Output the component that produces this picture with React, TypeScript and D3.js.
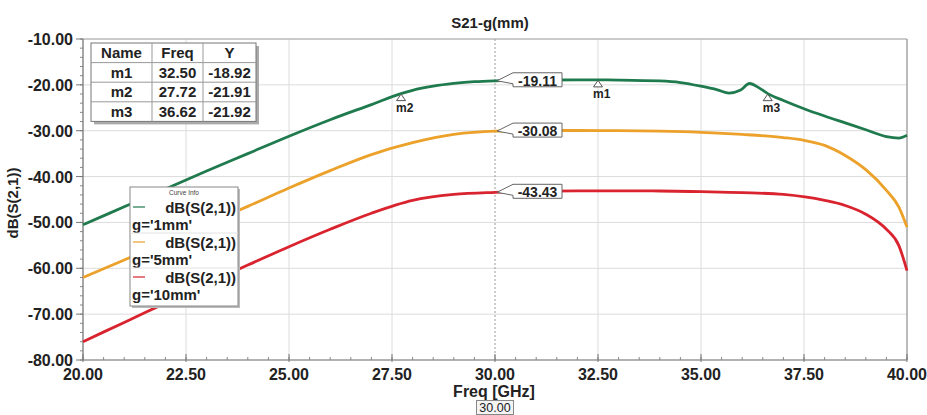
import React from "react";
import * as d3 from "d3";

const W = 927;
const H = 415;
const M = { left: 83, right: 907, top: 39, bottom: 360 };

const xTicks = [20, 22.5, 25, 27.5, 30, 32.5, 35, 37.5, 40];
const yTicks = [-10, -20, -30, -40, -50, -60, -70, -80];

const greenFreq = [20, 21, 22, 23, 24, 25, 26, 27, 27.72, 28, 28.5, 29, 29.5, 30, 31, 32, 32.5, 33, 34, 34.5, 35, 35.4, 35.68, 35.95, 36.18, 36.4, 36.62, 37, 37.5, 38, 38.5, 39, 39.5, 39.8, 40];
const greenVals = [-50.5, -46.6, -42.7, -38.8, -35, -31.2, -27.6, -24.3, -21.91, -21.2, -20.3, -19.7, -19.3, -19.11, -18.97, -18.9, -18.92, -18.95, -19.15, -19.5, -20.3, -21.1, -21.8, -21.2, -19.7, -20.6, -21.92, -23.4, -25.2, -26.8, -28.3, -29.8, -31.3, -31.6, -31];

const orangeFreq = [20, 21, 22, 23, 24, 25, 26, 27, 28, 29, 30, 31, 32, 33, 34, 35, 36, 37, 37.5, 38, 38.5, 39, 39.5, 39.8, 40];
const orangeVals = [-62, -58.2, -54.3, -50.4, -46.5, -42.5, -38.7, -35.2, -32.6, -30.8, -30.08, -29.95, -29.95, -30.0, -30.1, -30.35, -30.8, -31.5, -32.1, -33.2, -35.4, -38.5, -43, -46.6, -51];

const redFreq = [20, 21, 22, 23, 24, 25, 26, 27, 28, 29, 30, 31, 32, 33, 34, 35, 36, 37, 38, 38.5, 39, 39.5, 39.8, 40];
const redVals = [-76, -71.8, -67.6, -63.4, -59.3, -55.3, -51.5, -48, -45.2, -43.9, -43.43, -43.2, -43.1, -43.1, -43.15, -43.3, -43.5, -43.9, -45.2, -46.3, -48.2, -51.5, -55, -60.5];

const seriesNames = ["dB(S(2,1))", "dB(S(2,1))", "dB(S(2,1))"];
const seriesParams = ["g='1mm'", "g='5mm'", "g='10mm'"];
const seriesColors = ["#1f7a4d", "#eba12a", "#d9232e"];

const markerNames = ["m1", "m2", "m3"];
const markerFreqs = [32.5, 27.72, 36.62];
const markerYs = [-18.92, -21.91, -21.92];

const cursorFreq = 30;
const cursorVals = [-19.11, -30.08, -43.43];

const FONT = "'Liberation Sans', Arial, sans-serif";

const fmt = d3.formatLocale({ decimal: ".", thousands: ",", grouping: [3], currency: ["", ""], minus: "-" }).format(".2f");

export default function App() {
  const x = d3.scaleLinear().domain([20, 40]).range([M.left, M.right]);
  const y = d3.scaleLinear().domain([-80, -10]).range([M.bottom, M.top]);

  const series = [
    { f: greenFreq, v: greenVals },
    { f: orangeFreq, v: orangeVals },
    { f: redFreq, v: redVals },
  ];
  const line = d3
    .line<[number, number]>()
    .x((d) => x(d[0]))
    .y((d) => y(d[1]))
    .curve(d3.curveMonotoneX);

  const xMinor = d3.range(20, 40.001, 0.5);
  const yMinor = d3.range(-80, -9.999, 2);

  // marker table geometry
  const tX = 91, tY = 43, colW = [61, 51, 53], rowH = 19.6;
  const tW = colW[0] + colW[1] + colW[2];
  const tH = rowH * 4;
  const colX = [tX, tX + colW[0], tX + colW[0] + colW[1], tX + tW];

  // legend
  const lgX = 130, lgY = 187, lgW = 108, lgH = 119;

  return (
    <svg
      width={W}
      height={H}
      style={{ position: "absolute", left: 0, top: 0, background: "#fff" }}
      fontFamily={FONT}
    >
      <rect x={0} y={0} width={W} height={H} fill="#fff" />
      {/* title */}
      <text x={490} y={28} textAnchor="middle" fontSize={15} fontWeight="bold" fill="#222">
        S21-g(mm)
      </text>

      {/* grid */}
      {xTicks.map((t, i) =>
        t === cursorFreq ? null : (
          <line key={"gx" + i} x1={x(t)} x2={x(t)} y1={M.top} y2={M.bottom} stroke="#dcdcdc" strokeWidth={1} />
        )
      )}
      {yTicks.map((t, i) => (
        <line key={"gy" + i} x1={M.left} x2={M.right} y1={y(t)} y2={y(t)} stroke="#dcdcdc" strokeWidth={1} />
      ))}
      {/* cursor line */}
      <line x1={x(cursorFreq)} x2={x(cursorFreq)} y1={M.top} y2={M.bottom} stroke="#9a9a9a" strokeWidth={1} strokeDasharray="2,2" />

      {/* frame */}
      <line x1={M.left} x2={M.right} y1={M.top} y2={M.top} stroke="#a8a8a8" strokeWidth={1} />
      <line x1={M.right} x2={M.right} y1={M.top} y2={M.bottom} stroke="#999" strokeWidth={1.2} />
      <line x1={M.left} x2={M.left} y1={M.top} y2={M.bottom} stroke="#777" strokeWidth={1.2} />
      <line x1={M.left} x2={M.right} y1={M.bottom} y2={M.bottom} stroke="#777" strokeWidth={1.2} />

      {/* y ticks */}
      {yMinor.map((t, i) => (
        <line key={"ym" + i} x1={M.left - 3} x2={M.left} y1={y(t)} y2={y(t)} stroke="#888" strokeWidth={1} />
      ))}
      {yTicks.map((t, i) => (
        <g key={"yt" + i}>
          <line x1={M.left - 7} x2={M.left} y1={y(t)} y2={y(t)} stroke="#777" strokeWidth={1} />
          <text x={73} y={y(t) + 6} textAnchor="end" fontSize={16} fontWeight="bold" fill="#222">
            {fmt(t)}
          </text>
        </g>
      ))}
      {/* x ticks */}
      {xMinor.map((t, i) => (
        <line key={"xm" + i} x1={x(t)} x2={x(t)} y1={M.bottom - 3} y2={M.bottom} stroke="#888" strokeWidth={1} />
      ))}
      {xTicks.map((t, i) => (
        <g key={"xt" + i}>
          <line x1={x(t)} x2={x(t)} y1={M.bottom - 6} y2={M.bottom + 2} stroke="#777" strokeWidth={1} />
          <text x={x(t)} y={380} textAnchor="middle" fontSize={16} fontWeight="bold" fill="#222">
            {fmt(t)}
          </text>
        </g>
      ))}

      {/* axis labels */}
      <text x={494} y={397} textAnchor="middle" fontSize={16} fontWeight="bold" fill="#222">
        Freq [GHz]
      </text>
      <rect x={476.5} y={400.5} width={37} height={14} fill="#f4f4f4" stroke="#888" strokeWidth={1} />
      <text x={495} y={412} textAnchor="middle" fontSize={12.5} fill="#222">
        {fmt(cursorFreq)}
      </text>
      <text
        transform={`translate(18,203) rotate(-90)`}
        textAnchor="middle"
        fontSize={15}
        fontWeight="bold"
        fill="#222"
      >
        dB(S(2,1))
      </text>

      {/* curves */}
      {series.map((s, i) => (
        <path
          key={"s" + i}
          d={line(s.f.map((f, j) => [f, s.v[j]] as [number, number])) || ""}
          fill="none"
          stroke={seriesColors[i]}
          strokeWidth={2.8}
        />
      ))}

      {/* marker triangles */}
      {markerNames.map((n, i) => {
        const px = x(markerFreqs[i]);
        const py = y(markerYs[i]);
        return (
          <g key={"mk" + i}>
            <path
              d={`M${px},${py + 0.5} L${px + 4.5},${py + 7} L${px - 4.5},${py + 7} Z`}
              fill="#fff"
              stroke="#555"
              strokeWidth={1}
            />
            <text x={px - 5} y={py + 18} fontSize={12} fontWeight="bold" fill="#222">
              {n}
            </text>
          </g>
        );
      })}

      {/* cursor value flags */}
      {cursorVals.map((v, i) => {
        const px = x(cursorFreq) + 2;
        const py = y(v);
        const bx = px + 16;
        const bw = 49;
        const top = py - 8;
        const bot = py + 6;
        return (
          <g key={"cv" + i}>
            <path
              d={`M${px},${py} L${bx},${top} L${bx + bw},${top} L${bx + bw},${bot} L${bx},${bot} L${bx},${py + 3} Z`}
              fill="#fff"
              stroke="#666"
              strokeWidth={1}
            />
            <text x={bx + bw / 2} y={py + 5} textAnchor="middle" fontSize={14} fontWeight="bold" fill="#222">
              {fmt(v)}
            </text>
          </g>
        );
      })}

      {/* marker table */}
      <rect x={tX + 3} y={tY + 3} width={tW} height={tH} fill="#aaa" />
      <rect x={tX} y={tY} width={tW} height={tH} fill="#fff" stroke="#777" strokeWidth={1} />
      {[1, 2, 3].map((r) => (
        <line key={"tr" + r} x1={tX} x2={tX + tW} y1={tY + r * rowH} y2={tY + r * rowH} stroke="#999" strokeWidth={1} />
      ))}
      {[1, 2].map((c) => (
        <line key={"tc" + c} x1={colX[c]} x2={colX[c]} y1={tY} y2={tY + tH} stroke="#999" strokeWidth={1} />
      ))}
      {["Name", "Freq", "Y"].map((h, c) => (
        <text key={"th" + c} x={(colX[c] + colX[c + 1]) / 2} y={tY + 15} textAnchor="middle" fontSize={15} fontWeight="bold" fill="#222">
          {h}
        </text>
      ))}
      {markerNames.map((n, r) => {
        const by = tY + (r + 1) * rowH + 15;
        return (
          <g key={"trow" + r}>
            <text x={(colX[0] + colX[1]) / 2} y={by} textAnchor="middle" fontSize={15} fontWeight="bold" fill="#222">
              {n}
            </text>
            <text x={(colX[1] + colX[2]) / 2} y={by} textAnchor="middle" fontSize={15} fontWeight="bold" fill="#222">
              {fmt(markerFreqs[r])}
            </text>
            <text x={(colX[2] + colX[3]) / 2} y={by} textAnchor="middle" fontSize={15} fontWeight="bold" fill="#222">
              {fmt(markerYs[r])}
            </text>
          </g>
        );
      })}

      {/* legend */}
      <rect x={lgX + 2} y={lgY + 2} width={lgW} height={lgH} fill="#bbb" />
      <rect x={lgX} y={lgY} width={lgW} height={lgH} fill="#fff" stroke="#888" strokeWidth={1} />
      <text x={lgX + lgW / 2} y={lgY + 8} textAnchor="middle" fontSize={6.5} fill="#444">
        Curve Info
      </text>
      {seriesNames.map((n, i) => {
        const base = lgY + 26 + i * 35;
        return (
          <g key={"lg" + i}>
            {i > 0 && (
              <line x1={lgX} x2={lgX + lgW} y1={base - 15} y2={base - 15} stroke="#e2e2e2" strokeWidth={1} />
            )}
            <line x1={lgX + 3} x2={lgX + 15} y1={base - 6} y2={base - 6} stroke={seriesColors[i]} strokeWidth={1.5} opacity={0.8} />
            <text x={lgX + lgW - 2} y={base} textAnchor="end" fontSize={15} fontWeight="bold" fill="#222">
              {n}
            </text>
            <text x={lgX + 2} y={base + 17} fontSize={15} fontWeight="bold" fill="#222">
              {seriesParams[i]}
            </text>
          </g>
        );
      })}
    </svg>
  );
}
